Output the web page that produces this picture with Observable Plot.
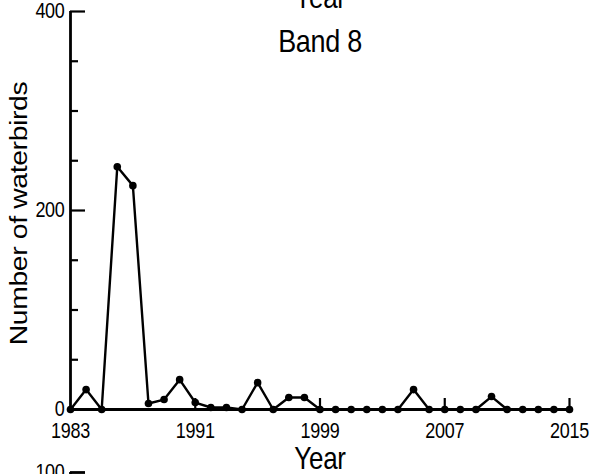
<!DOCTYPE html>
<html>
<head>
<meta charset="utf-8">
<script src="https://cdn.jsdelivr.net/npm/d3@7"></script>
<script src="https://cdn.jsdelivr.net/npm/@observablehq/plot@0.6"></script>
<style>
  html, body { margin: 0; padding: 0; background: #fff; }
  #figure { position: relative; width: 592px; height: 474px; overflow: hidden; background: #fff; }
  #figure > svg { position: absolute; left: 0; overflow: visible; }
</style>
</head>
<body>
<div id="figure"></div>
<script>
// Annual waterbird counts, Band 8
const years = [1983, 1984, 1985, 1986, 1987, 1988, 1989, 1990, 1991, 1992, 1993,
               1994, 1995, 1996, 1997, 1998, 1999, 2000, 2001, 2002, 2003, 2004,
               2005, 2006, 2007, 2008, 2009, 2010, 2011, 2012, 2013, 2014, 2015];
const waterbirds = [0, 20, 0, 244, 225, 6, 10, 30, 7, 2, 2,
                    0, 27, 0, 12, 12, 0, 0, 0, 0, 0, 0,
                    20, 0, 0, 0, 0, 13, 0, 0, 0, 0, 0];

const xTickLabels = [1983, 1991, 1999, 2007, 2015];
const yTickLabels = [0, 200, 400];
const yMinorTicks = [50, 100, 150, 250, 300, 350];
const yMajorTicks = [200, 400];
const xInnerTicks = [1991, 1999, 2007, 2015];
const panelTitle = "Band 8";
const xLabel = "Year";
const yLabel = "Number of waterbirds";
// next panel down (only its top edge falls inside the figure)
const nextPanelTicks = [100];

const counts = years.map((year, i) => ({year, count: waterbirds[i]}));

const W = 592, H = 474;
const mL = 70, mR = 23, mT = 11, mB = 65;
const plotW = W - mL - mR, plotH = H - mT - mB;
const font = "'Liberation Sans', Arial, Helvetica, sans-serif";

const chart = Plot.plot({
  width: W, height: H,
  marginLeft: mL, marginRight: mR, marginTop: mT, marginBottom: mB,
  style: {background: "white", fontFamily: font, color: "black"},
  x: {domain: [1983, 2015], axis: null},
  y: {domain: [0, 400], axis: null},
  marks: [
    // axis lines
    Plot.ruleX([1983], {stroke: "black", strokeWidth: 2.8}),
    Plot.ruleY([0], {stroke: "black", strokeWidth: 2.8}),
    // inward ticks
    Plot.tickY(yMajorTicks, {y: d => d, stroke: "black", strokeWidth: 2.2, insetRight: plotW - 15}),
    Plot.tickY(yMinorTicks, {y: d => d, stroke: "black", strokeWidth: 2.2, insetRight: plotW - 8}),
    Plot.tickX(xInnerTicks, {x: d => d, stroke: "black", strokeWidth: 2.2, insetTop: plotH - 11}),
    // tick labels
    Plot.text(yTickLabels, {y: d => d, text: d => String(d), frameAnchor: "left",
      textAnchor: "end", dx: -6, fontSize: 18, fill: "black"}),
    Plot.text(xTickLabels, {x: d => d, text: d => String(d), frameAnchor: "bottom",
      textAnchor: "middle", lineAnchor: "top", dy: 13, fontSize: 18, fill: "black"}),
    // series
    Plot.line(counts, {x: "year", y: "count", stroke: "black", strokeWidth: 2.4}),
    Plot.dot(counts, {x: "year", y: "count", r: 3.8, fill: "black", stroke: "none"}),
    // titles
    Plot.text([panelTitle], {text: d => d, frameAnchor: "top", textAnchor: "middle",
      lineAnchor: "top", dy: 18, fontSize: 27, fill: "black"}),
    Plot.text([xLabel], {text: d => d, frameAnchor: "bottom", textAnchor: "middle",
      lineAnchor: "top", dy: 38, fontSize: 26, fill: "black"}),
    // x label of the panel above, cut by the top edge
    Plot.text([xLabel], {text: d => d, frameAnchor: "top", textAnchor: "middle",
      lineAnchor: "top", dy: -25, fontSize: 26, fill: "black"}),
    Plot.text([yLabel], {text: d => d, frameAnchor: "left", textAnchor: "middle",
      rotate: -90, lineAnchor: "top", dx: -61, dy: 3, fontSize: 24, fill: "black"})
  ]
});

const nextPanel = Plot.plot({
  width: W, height: 40,
  marginLeft: mL, marginRight: mR, marginTop: 0, marginBottom: 0,
  style: {background: "transparent", fontFamily: font, color: "black"},
  x: {domain: [1983, 2015], axis: null},
  y: {domain: [0, 100], axis: null},
  marks: [
    Plot.ruleX([1983], {stroke: "black", strokeWidth: 2.8}),
    Plot.tickY(nextPanelTicks, {y: d => d, stroke: "black", strokeWidth: 2.8, insetRight: plotW - 15}),
    Plot.text(nextPanelTicks, {y: d => d, text: d => String(d), frameAnchor: "left",
      textAnchor: "end", dx: -6, fontSize: 18, fill: "black"})
  ]
});

// Taller, narrower lettering: stretch each label along its vertical screen axis
function stretchText(svg, k) {
  d3.select(svg).selectAll("text").each(function () {
    const t = this.getAttribute("transform");
    if (t) {
      this.setAttribute("transform",
        t + (t.includes("rotate") ? ` scale(${k},1)` : ` scale(1,${k})`));
    }
    this.setAttribute("letter-spacing", "-0.3");
  });
}
stretchText(chart, 1.18);
stretchText(nextPanel, 1.18);

chart.style.top = "0px";
nextPanel.style.top = "472px";
const fig = document.getElementById("figure");
fig.append(chart);
fig.append(nextPanel);
</script>
</body>
</html>
